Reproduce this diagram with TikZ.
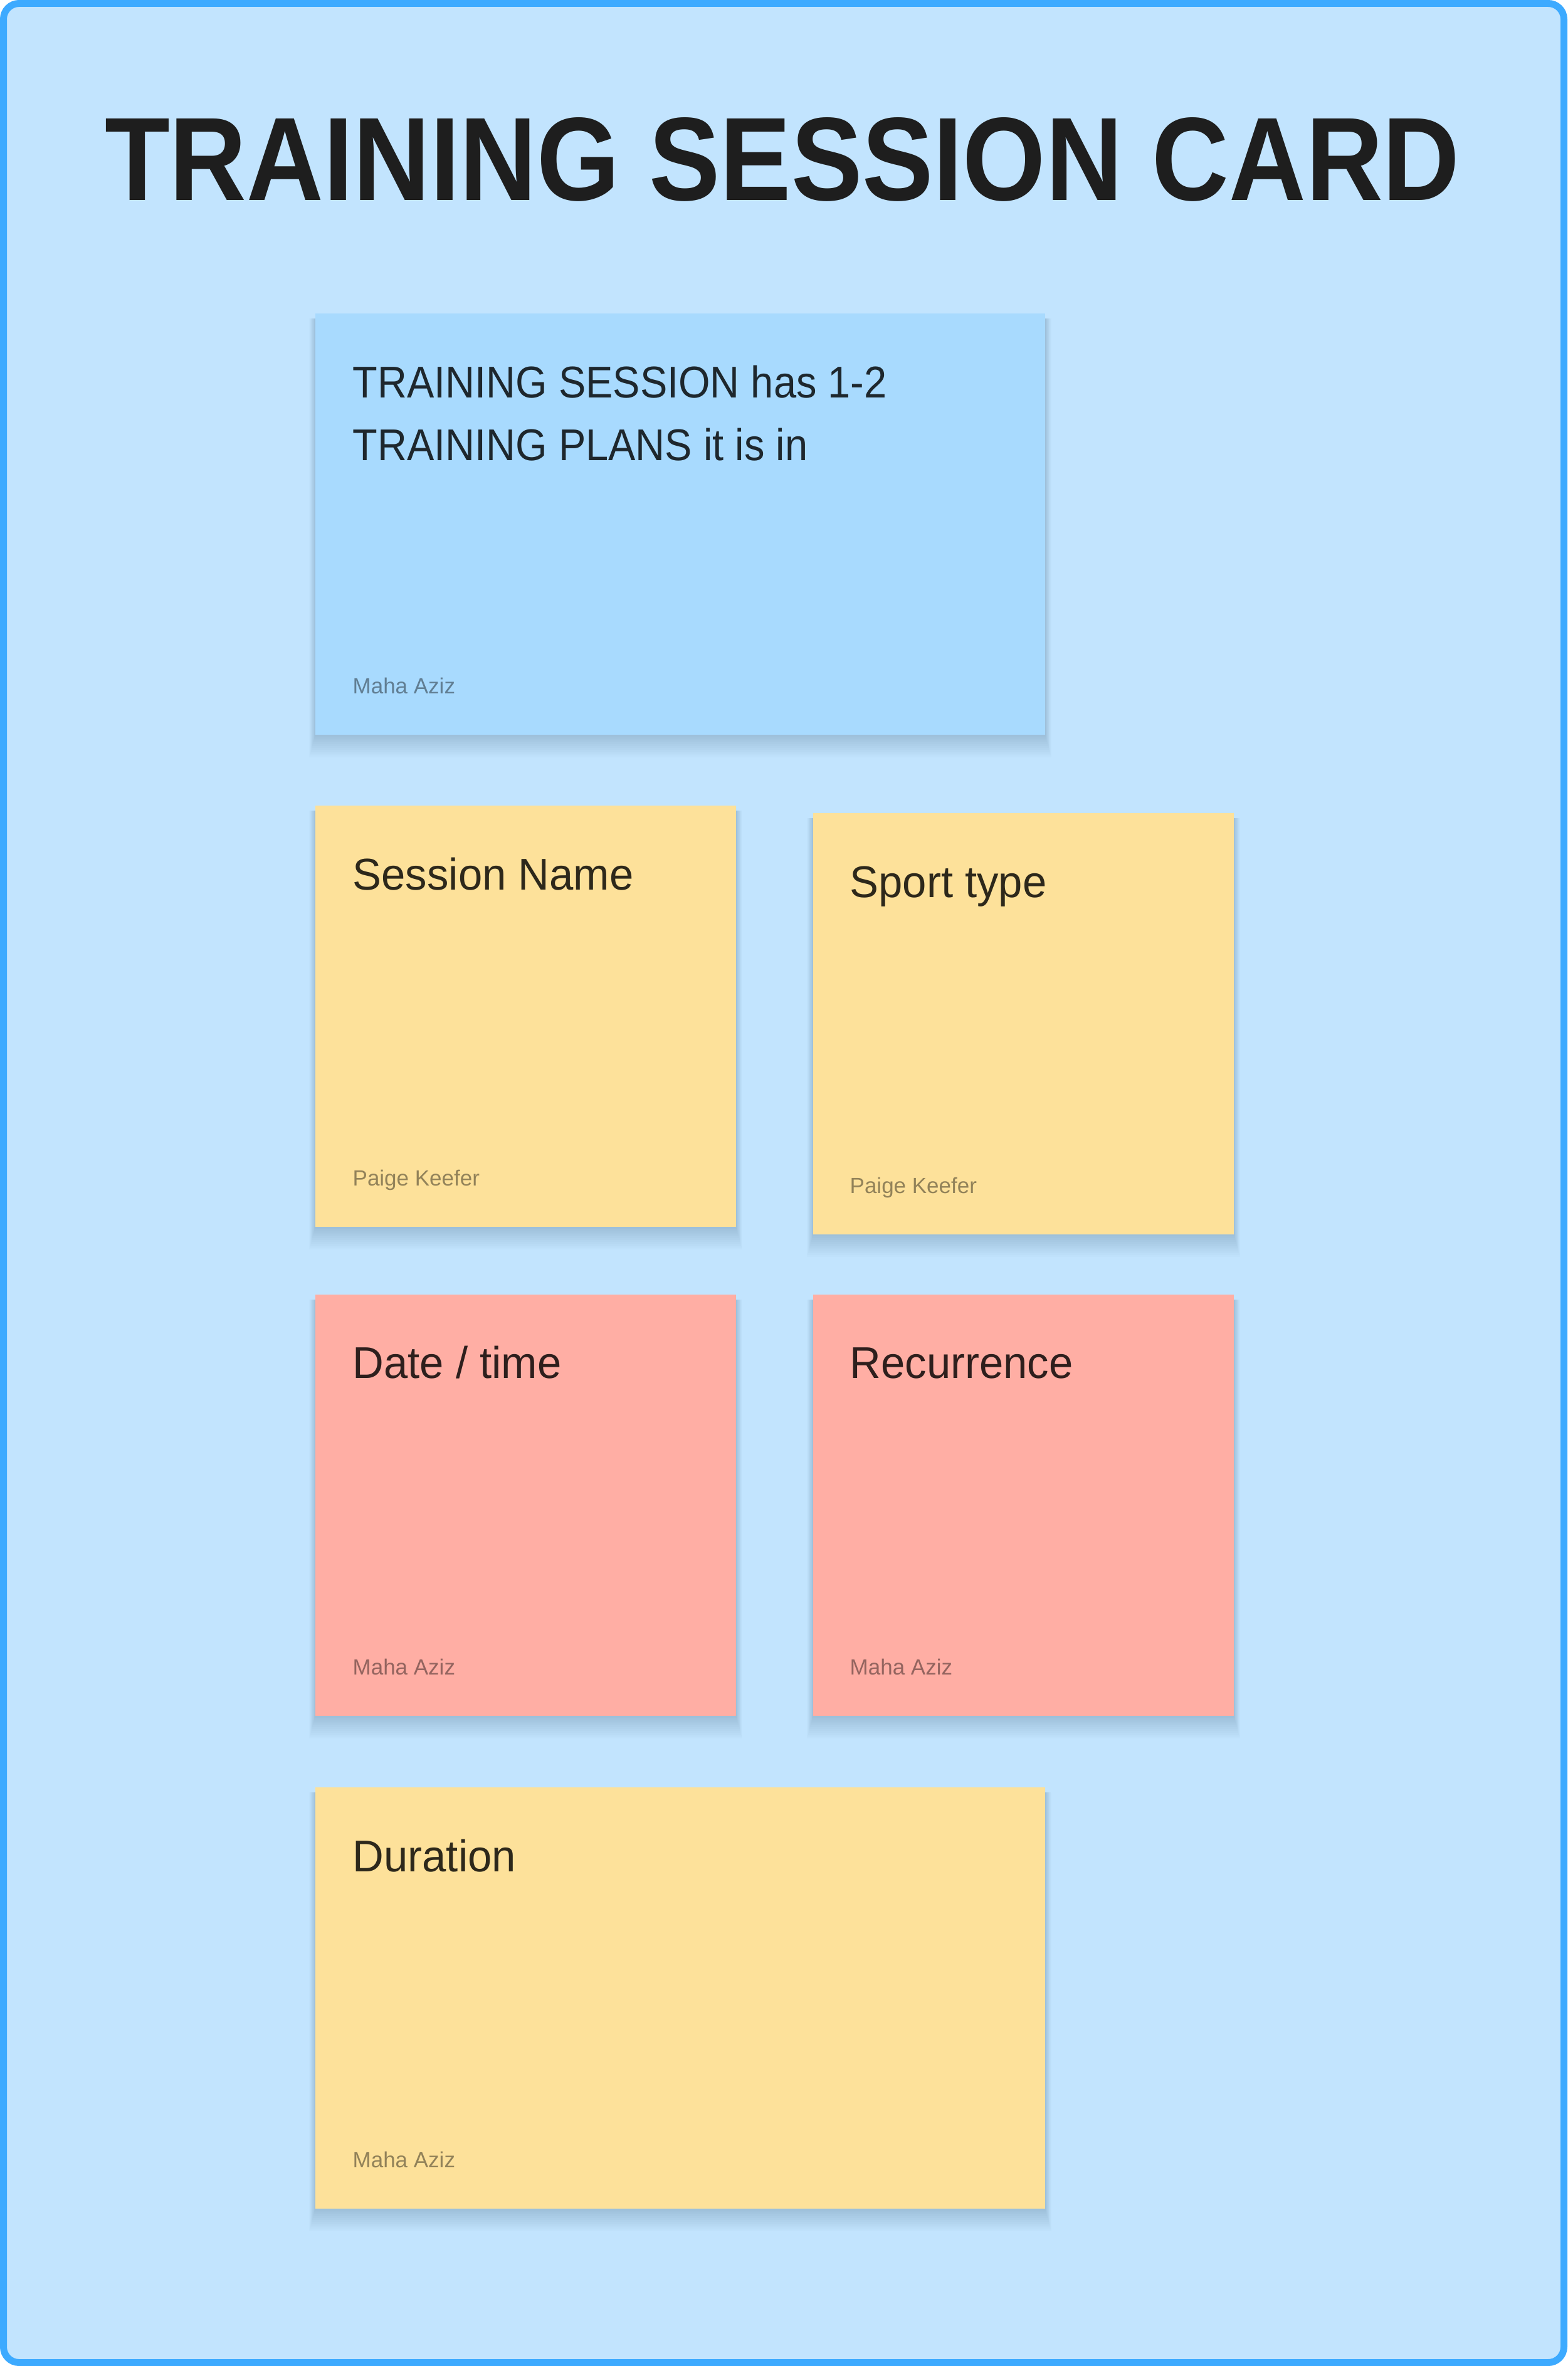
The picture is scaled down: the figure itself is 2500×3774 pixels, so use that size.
\documentclass[tikz,border=0pt]{standalone}
\usepackage{fontspec}
\setmainfont{Liberation Sans}
\newfontfamily\notefont{Liberation Sans}[FakeStretch=0.97]
\newfontfamily\capsnotefont{Liberation Sans}[FakeStretch=0.915]
\usetikzlibrary{calc}
\definecolor{pagebg}{HTML}{C2E4FE}
\definecolor{framecol}{HTML}{3DAAFF}
\definecolor{titlecol}{HTML}{1E1E1E}
\definecolor{noteblue}{HTML}{A8DAFE}
\definecolor{noteyellow}{HTML}{FDE19A}
\definecolor{notered}{HTML}{FFAEA4}
\definecolor{shadecol}{HTML}{0A2A50}
\pgfdeclarelayer{pagelayer}
\pgfdeclarelayer{shadelayer}
\pgfsetlayers{pagelayer,shadelayer,main}
\tikzset{
  sticky/.style={rectangle, inner sep=0pt, outer sep=0pt, draw=none, anchor=north west},
  squarenote/.style={sticky, minimum width=201.3pt, minimum height=201.6pt},
  widenote/.style={sticky, minimum width=349.2pt, minimum height=201.6pt},
  shadelayerstyle/.style={fill=shadecol, opacity=0.017},
  maintext/.style={anchor=base west, inner sep=0pt, text=black, text opacity=0.82,
    font=\notefont\fontsize{21.3pt}{30pt}\selectfont},
  capstext/.style={maintext, font=\capsnotefont\fontsize{21.3pt}{30pt}\selectfont},
  authortext/.style={anchor=base west, inner sep=0pt, text=black, text opacity=0.42,
    font=\fontsize{10.5pt}{12pt}\selectfont},
}
\newcommand\castshadow[1]{%
  \begin{pgfonlayer}{shadelayer}
  \foreach \k in {1,...,12}{%
    \fill[shadelayerstyle] ($(#1.north west)+(-0.8*\k,8)$) rectangle ($(#1.south east)+(0.8*\k,3*\k)$);
  }
  \end{pgfonlayer}}
\begin{document}
\begin{tikzpicture}[x=0.3pt, y=-0.3pt]
\useasboundingbox (0,0) rectangle (2500,3774);
\begin{pgfonlayer}{pagelayer}
\fill[white] (0,0) rectangle (2500,3774);
\draw[line width=3.3pt, draw=framecol, fill=pagebg, rounded corners=7.5pt] (5.5,5.5) rectangle (2494.5,3768.5);
\end{pgfonlayer}

\node[anchor=base, inner sep=0pt, text=titlecol] (title) at (1248,320)
  {\resizebox{648.3pt}{39.6pt}{\bfseries TRAINING SESSION CARD}};

% blue note
\node[widenote, fill=noteblue] (n1) at (503,500) {};
\castshadow{n1}
\node[capstext] (n1a) at ($(n1.north west)+(59,134)$) {TRAINING SESSION has 1-2};
\node[capstext] (n1b) at ($(n1.north west)+(59,234)$) {TRAINING PLANS it is in};
\node[authortext] (n1c) at ($(n1.south west)+(59,-66)$) {Maha Aziz};

% Session Name
\node[squarenote, fill=noteyellow] (n2) at (503,1285) {};
\castshadow{n2}
\node[maintext] (n2a) at ($(n2.north west)+(59,134)$) {Session Name};
\node[authortext] (n2c) at ($(n2.south west)+(59,-66)$) {Paige Keefer};

% Sport type
\node[squarenote, fill=noteyellow] (n3) at (1297,1297) {};
\castshadow{n3}
\node[maintext] (n3a) at ($(n3.north west)+(58,134)$) {Sport type};
\node[authortext] (n3c) at ($(n3.south west)+(58,-66)$) {Paige Keefer};

% Date / time
\node[squarenote, fill=notered] (n4) at (503,2065) {};
\castshadow{n4}
\node[maintext] (n4a) at ($(n4.north west)+(59,133)$) {Date / time};
\node[authortext] (n4c) at ($(n4.south west)+(59,-66)$) {Maha Aziz};

% Recurrence
\node[squarenote, fill=notered] (n5) at (1297,2065) {};
\castshadow{n5}
\node[maintext] (n5a) at ($(n5.north west)+(58,133)$) {Recurrence};
\node[authortext] (n5c) at ($(n5.south west)+(58,-66)$) {Maha Aziz};

% Duration
\node[widenote, fill=noteyellow] (n6) at (503,2851) {};
\castshadow{n6}
\node[maintext] (n6a) at ($(n6.north west)+(59,134)$) {Duration};
\node[authortext] (n6c) at ($(n6.south west)+(59,-66)$) {Maha Aziz};
\end{tikzpicture}
\end{document}
